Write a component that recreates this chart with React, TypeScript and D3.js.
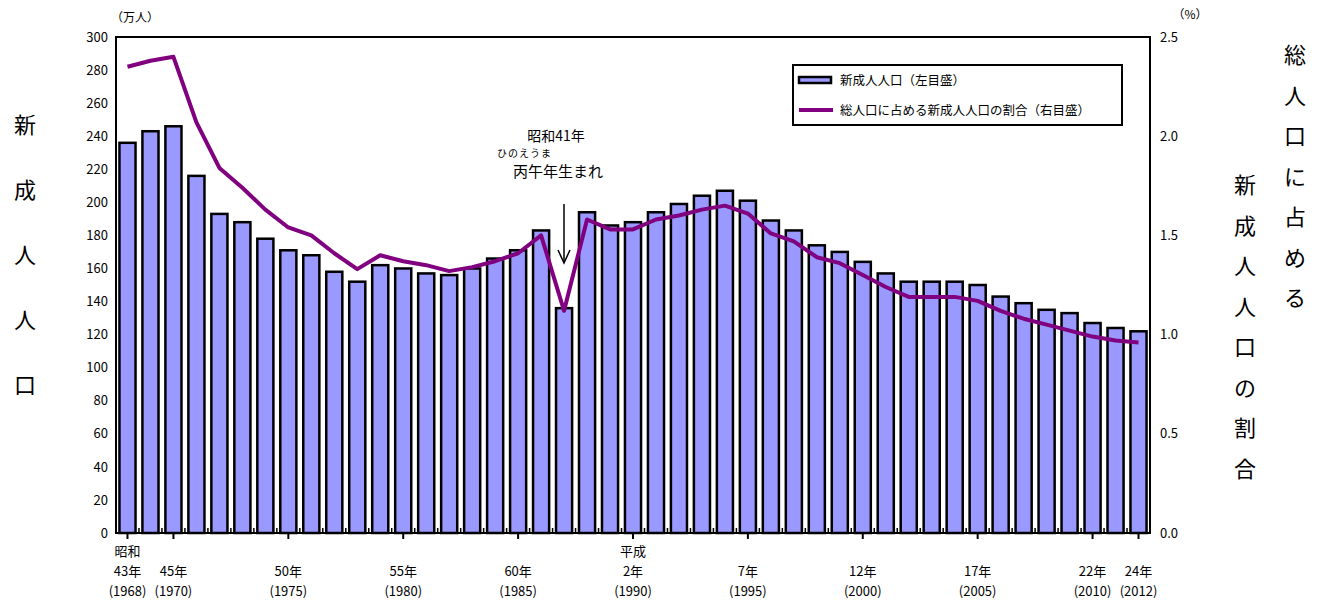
import React, { useEffect, useRef } from "react";
import * as d3 from "d3";

// 新成人人口 (万人), 1968-2012
const years = d3.range(1968, 2013);
const adults = [
  236, 243, 246, 216, 193, 188, 178, 171, 168, 158, 152, 162, 160, 157, 156,
  160, 166, 171, 183, 136, 194, 186, 188, 194, 199, 204, 207, 201, 189, 183,
  174, 170, 164, 157, 152, 152, 152, 150, 143, 139, 135, 133, 127, 124, 122,
];
// 総人口に占める新成人人口の割合 (%)
const ratio = [
  2.35, 2.38, 2.40, 2.07, 1.84, 1.74, 1.63, 1.54, 1.50, 1.41, 1.33, 1.40, 1.37,
  1.35, 1.32, 1.34, 1.37, 1.41, 1.50, 1.12, 1.58, 1.53, 1.53, 1.58, 1.60, 1.63,
  1.65, 1.61, 1.51, 1.47, 1.39, 1.36, 1.30, 1.24, 1.19, 1.19, 1.19, 1.17, 1.12,
  1.08, 1.05, 1.02, 0.99, 0.97, 0.96,
];
const xLabels = [
  { year: 1968, lines: ["昭和", "43年", "(1968)"] },
  { year: 1970, lines: ["", "45年", "(1970)"] },
  { year: 1975, lines: ["", "50年", "(1975)"] },
  { year: 1980, lines: ["", "55年", "(1980)"] },
  { year: 1985, lines: ["", "60年", "(1985)"] },
  { year: 1990, lines: ["平成", "2年", "(1990)"] },
  { year: 1995, lines: ["", "7年", "(1995)"] },
  { year: 2000, lines: ["", "12年", "(2000)"] },
  { year: 2005, lines: ["", "17年", "(2005)"] },
  { year: 2010, lines: ["", "22年", "(2010)"] },
  { year: 2012, lines: ["", "24年", "(2012)"] },
];
const leftTitle = "新成人人口".split("");
const rightTitle1 = "総人口に占める".split("");
const rightTitle2 = "新成人人口の割合".split("");

const FONT = "'Noto Sans CJK JP', 'DejaVu Sans', sans-serif";

export default function App() {
  const ref = useRef<SVGSVGElement>(null);

  useEffect(() => {
    const svg = d3.select(ref.current);
    svg.selectAll("*").remove();

    const left = 116, right = 1150, top = 37, bottom = 533;

    const x = d3.scaleBand<number>().domain(years).range([left, right]).paddingInner(0.3).paddingOuter(0.15);
    const step = x.step();
    const xc = (yr: number) => (x(yr) as number) + x.bandwidth() / 2;
    const y = d3.scaleLinear().domain([0, 300]).range([bottom, top]);
    const y2 = d3.scaleLinear().domain([0, 2.5]).range([bottom, top]);

    const g = svg.append("g").style("font-family", FONT);

    // bars
    g.selectAll("rect.bar")
      .data(adults)
      .enter()
      .append("rect")
      .attr("class", "bar")
      .attr("x", (d, i) => x(years[i]) as number)
      .attr("y", (d) => y(d))
      .attr("width", x.bandwidth())
      .attr("height", (d) => bottom - y(d))
      .attr("fill", "#9999ff")
      .attr("stroke", "#000")
      .attr("stroke-width", 2.5);

    // line
    const line = d3.line<number>()
      .x((d, i) => xc(years[i]))
      .y((d) => y2(d));
    g.append("path")
      .datum(ratio)
      .attr("d", line)
      .attr("fill", "none")
      .attr("stroke", "#800080")
      .attr("stroke-width", 4)
      .attr("stroke-linejoin", "round");

    // frame
    g.append("rect")
      .attr("x", left).attr("y", top)
      .attr("width", right - left).attr("height", bottom - top)
      .attr("fill", "none").attr("stroke", "#000").attr("stroke-width", 2);

    // left axis
    const yAxis = g.append("g").attr("transform", `translate(${left},0)`)
      .call(d3.axisLeft(y).tickValues(d3.range(0, 301, 20)).tickSize(0).tickPadding(8));
    yAxis.select(".domain").remove();
    yAxis.selectAll("text").style("font-family", FONT).style("font-size", "13px").attr("fill", "#000");

    // right axis
    const yAxis2 = g.append("g").attr("transform", `translate(${right},0)`)
      .call(d3.axisRight(y2).tickValues(d3.range(0, 2.51, 0.5)).tickFormat(d3.format(".1f")).tickSize(0).tickPadding(10));
    yAxis2.select(".domain").remove();
    yAxis2.selectAll("text").style("font-family", FONT).style("font-size", "13px").attr("fill", "#000");

    // minor ticks between bars
    g.selectAll("line.minor")
      .data(d3.range(1, years.length))
      .enter()
      .append("line")
      .attr("x1", (i) => left + step * i)
      .attr("x2", (i) => left + step * i)
      .attr("y1", bottom).attr("y2", bottom - 5)
      .attr("stroke", "#000").attr("stroke-width", 1.5);

    // x labels + major ticks
    xLabels.forEach((l) => {
      const cx = xc(l.year);
      g.append("line").attr("x1", cx).attr("x2", cx).attr("y1", bottom).attr("y2", bottom + 6)
        .attr("stroke", "#000").attr("stroke-width", 2);
      l.lines.forEach((t, k) => {
        if (!t) return;
        g.append("text").attr("x", cx).attr("y", 556 + k * 20)
          .attr("text-anchor", "middle").style("font-size", "13px").text(t);
      });
    });

    // units
    g.append("text").attr("x", 135).attr("y", 22).attr("text-anchor", "middle").style("font-size", "12px").text("（万人）");
    g.append("text").attr("x", 1190).attr("y", 19).attr("text-anchor", "middle").style("font-size", "12px").text("（%）");

    // vertical titles
    leftTitle.forEach((c, i) => {
      g.append("text").attr("x", 25).attr("y", 133 + i * 65).attr("text-anchor", "middle").style("font-size", "22px").text(c);
    });
    rightTitle1.forEach((c, i) => {
      g.append("text").attr("x", 1295).attr("y", 63 + i * 40.5).attr("text-anchor", "middle").style("font-size", "22px").text(c);
    });
    rightTitle2.forEach((c, i) => {
      g.append("text").attr("x", 1245).attr("y", 193 + i * 40.5).attr("text-anchor", "middle").style("font-size", "22px").text(c);
    });

    // legend
    const lg = g.append("g").attr("transform", "translate(793,65)");
    lg.append("rect").attr("width", 329).attr("height", 60).attr("fill", "#fff").attr("stroke", "#000").attr("stroke-width", 2);
    lg.append("rect").attr("x", 6).attr("y", 12).attr("width", 32).attr("height", 6)
      .attr("fill", "#9999ff").attr("stroke", "#000").attr("stroke-width", 2.5);
    lg.append("text").attr("x", 47).attr("y", 20).style("font-size", "12.5px").text("新成人人口（左目盛）");
    lg.append("line").attr("x1", 6).attr("x2", 40).attr("y1", 45).attr("y2", 45).attr("stroke", "#800080").attr("stroke-width", 4);
    lg.append("text").attr("x", 47).attr("y", 50).style("font-size", "12.5px").text("総人口に占める新成人人口の割合（右目盛）");

    // annotation
    g.append("text").attr("x", 556).attr("y", 141).attr("text-anchor", "middle").style("font-size", "14px").text("昭和41年");
    g.append("text").attr("x", 497).attr("y", 157).attr("textLength", 54).style("font-size", "10px").text("ひのえうま");
    g.append("text").attr("x", 513).attr("y", 177).style("font-size", "15px").text("丙午年生まれ");
    const ax = 564;
    g.append("line").attr("x1", ax).attr("x2", ax).attr("y1", 204).attr("y2", 262).attr("stroke", "#000").attr("stroke-width", 1.5);
    g.append("path").attr("d", `M${ax - 6},${250} L${ax},${263} L${ax + 6},${250}`)
      .attr("fill", "none").attr("stroke", "#000").attr("stroke-width", 1.5);
  }, []);

  return (
    <svg ref={ref} width={1323} height={601} style={{ position: "absolute", left: 0, top: 0, background: "#fff" }} />
  );
}
